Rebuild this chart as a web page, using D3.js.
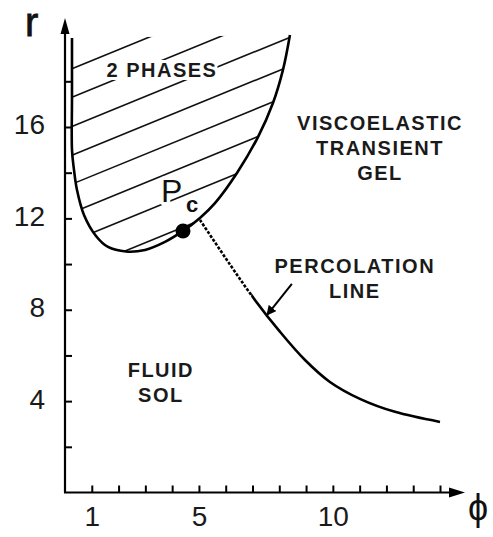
<!DOCTYPE html>
<html><head><meta charset="utf-8">
<script src="https://cdn.jsdelivr.net/npm/d3@7"></script>
<style>body{margin:0;background:#fff}svg{display:block}</style>
</head><body>
<svg id="chart" width="493" height="537"></svg>
<script>
// ---- data ----
const binodalPhi = [0.261, 0.261, 0.261, 0.336, 0.448, 0.709, 1.157, 1.605, 2.277, 2.986, 3.733, 4.405, 5.039, 5.599, 6.420, 7.204, 7.764, 8.137, 8.398];
const binodalR   = [19.90, 17.24, 15.00, 14.12, 13.24, 12.15, 11.23, 10.75, 10.55, 10.62, 10.97, 11.45, 12.02, 12.67, 13.99, 15.56, 17.05, 18.50, 20.03];
const percPhi = [5.04, 6.16, 7.09, 8.03, 8.96, 9.89, 11.01, 12.32, 14.0];
const percR   = [11.93, 9.98, 8.43, 7.03, 5.80, 4.84, 4.10, 3.53, 3.09];
const percDashedUntil = 6.95;        // phi where the percolation line turns solid
const pcPhi = 4.405, pcR = 11.45;    // critical point Pc
const hatchR0 = [18.55, 17.3, 16.02, 14.76, 13.5, 12.25, 11.0, 9.62]; // hatch lines: r at phi = 0.26
const hatchSlope = 0.48;             // dr/dphi of hatch lines
const xMinorTicks = [1,2,3,4,5,6,7,8,9,10,11,12,13,14];
const xTickLabels = [1, 5, 10];
const yMinorTicks = [2,4,6,8,10,12,14,16,18];
const yTickLabels = [4, 8, 12, 16];
const regionLabels = [
  {lines: ["2 PHASES"], phi: 3.62, r: 18.19, knockout: true},
  {lines: ["VISCOELASTIC", "TRANSIENT", "GEL"], phi: 11.76, r: 15.87},
  {lines: ["PERCOLATION", "LINE"], phi: 10.82, r: 9.61},
  {lines: ["FLUID", "SOL"], phi: 3.58, r: 5.06}
];
const arrowFrom = [8.47, 9.13], arrowTo = [7.54, 7.77];

// ---- scales ----
const svg = d3.select("#chart");
const x = d3.scaleLinear().domain([0, 14]).range([65, 440]);
const y = d3.scaleLinear().domain([0, 16]).range([492.5, 127]);
const font = "'Liberation Sans', Arial, Helvetica, sans-serif";

const binodal = binodalPhi.map((p, i) => [p, binodalR[i]]);
const perc = percPhi.map((p, i) => [p, percR[i]]);
const line = d3.line().x(d => x(d[0])).y(d => y(d[1])).curve(d3.curveCatmullRom.alpha(0.5));
const defs = svg.append("defs");

// clip region = two-phase region
defs.append("clipPath").attr("id", "twoPhase")
  .append("path").attr("d", line(binodal) + "Z");
// clips splitting the percolation line into dashed / solid parts
defs.append("clipPath").attr("id", "dashPart").append("rect")
  .attr("x", 0).attr("y", 0).attr("width", x(percDashedUntil)).attr("height", 537);
defs.append("clipPath").attr("id", "solidPart").append("rect")
  .attr("x", x(percDashedUntil)).attr("y", 0).attr("width", 493).attr("height", 537);

// hatch lines
svg.append("g").attr("clip-path", "url(#twoPhase)")
  .selectAll("line").data(hatchR0).join("line")
  .attr("x1", x(0)).attr("y1", d => y(d - hatchSlope * 0.26))
  .attr("x2", x(10)).attr("y2", d => y(d + hatchSlope * (10 - 0.26)))
  .attr("stroke", "#111").attr("stroke-width", 1.6);

// region labels
regionLabels.forEach(l => {
  const g = svg.append("g");
  const t = g.append("text")
    .attr("x", x(l.phi)).attr("y", y(l.r))
    .attr("text-anchor", "middle")
    .attr("font-family", font).attr("font-weight", "bold")
    .attr("font-size", 20).attr("letter-spacing", 1.5)
    .attr("fill", "#1a1a1a");
  l.lines.forEach((s, i) => t.append("tspan").attr("x", x(l.phi)).attr("dy", i === 0 ? 0 : 25).text(s));
  if (l.knockout) {
    const b = t.node().getBBox();
    g.insert("rect", "text").attr("x", b.x - 2).attr("y", b.y + 1)
      .attr("width", b.width + 2).attr("height", b.height - 2).attr("fill", "#fff");
  }
});

// Pc label
const pcText = svg.append("text").attr("font-family", font).attr("fill", "#111")
  .attr("stroke", "#fff").attr("stroke-width", 7).attr("paint-order", "stroke").attr("stroke-linejoin", "round");
pcText.append("tspan").attr("x", x(pcPhi) - 22).attr("y", y(pcR) - 29).attr("font-size", 32).text("P");
pcText.append("tspan").attr("x", x(pcPhi) + 3).attr("y", y(pcR) - 19).attr("font-size", 22).attr("font-weight", "bold").text("c");

// binodal curve
svg.append("path").attr("d", line(binodal)).attr("fill", "none")
  .attr("stroke", "#000").attr("stroke-width", 2.6);

// percolation line: one smooth curve, dashed part + solid part
svg.append("path").attr("d", line(perc)).attr("fill", "none").attr("clip-path", "url(#dashPart)")
  .attr("stroke", "#000").attr("stroke-width", 2.6).attr("stroke-dasharray", "3,1.6");
svg.append("path").attr("d", line(perc)).attr("fill", "none").attr("clip-path", "url(#solidPart)")
  .attr("stroke", "#000").attr("stroke-width", 2.6);

// Pc dot
svg.append("circle").attr("cx", x(pcPhi)).attr("cy", y(pcR)).attr("r", 7.5).attr("fill", "#000");

// annotation arrow
defs.append("marker").attr("id", "ah").attr("viewBox", "0 0 10 10")
  .attr("refX", 9).attr("refY", 5).attr("markerWidth", 5).attr("markerHeight", 5)
  .attr("orient", "auto").append("path").attr("d", "M0,0L10,5L0,10Z").attr("fill", "#000");
svg.append("line").attr("x1", x(arrowFrom[0])).attr("y1", y(arrowFrom[1]))
  .attr("x2", x(arrowTo[0])).attr("y2", y(arrowTo[1]))
  .attr("stroke", "#000").attr("stroke-width", 2).attr("marker-end", "url(#ah)");

// axes (ticks inward)
const gx = svg.append("g").attr("transform", `translate(0,${y(0)})`)
  .call(d3.axisTop(x).tickValues(xMinorTicks).tickSize(7).tickFormat(""));
const gy = svg.append("g").attr("transform", `translate(${x(0)},0)`)
  .call(d3.axisRight(y).tickValues(yMinorTicks).tickSize(7).tickFormat(""));
[gx, gy].forEach(g => {
  g.select(".domain").remove();
  g.selectAll(".tick line").attr("stroke", "#000").attr("stroke-width", 2);
});
const gxl = svg.append("g").attr("transform", `translate(0,${y(0)})`)
  .call(d3.axisBottom(x).tickValues(xTickLabels).tickSize(0).tickPadding(14).tickFormat(d3.format("d")));
const gyl = svg.append("g").attr("transform", `translate(${x(0)},-2)`)
  .call(d3.axisLeft(y).tickValues(yTickLabels).tickSize(0).tickPadding(20).tickFormat(d3.format("d")));
[gxl, gyl].forEach(g => {
  g.select(".domain").remove();
  g.selectAll("text").attr("font-family", font).attr("font-size", 28).attr("fill", "#1a1a1a");
});

// axis lines with arrows
const axisG = svg.append("g").attr("stroke", "#000").attr("stroke-width", 2.2);
axisG.append("line").attr("x1", x(0)).attr("y1", y(0)).attr("x2", x(0)).attr("y2", 30);
axisG.append("line").attr("x1", x(0) - 1).attr("y1", y(0)).attr("x2", 455).attr("y2", y(0));
svg.append("path").attr("d", `M${x(0)},18L${x(0) - 4.5},34L${x(0) + 4.5},34Z`).attr("fill", "#000");
svg.append("path").attr("d", `M465,${y(0)}L449,${y(0) - 5}L449,${y(0) + 5}Z`).attr("fill", "#000");

// axis titles
svg.append("text").attr("x", 25).attr("y", 36).attr("font-family", font)
  .attr("font-size", 40).attr("fill", "#111").attr("stroke", "#111").attr("stroke-width", 0.8).text("r");
svg.append("text").attr("x", 468).attr("y", 520).attr("font-family", font)
  .attr("font-size", 36).attr("fill", "#111").text("ϕ");
</script>
</body></html>
